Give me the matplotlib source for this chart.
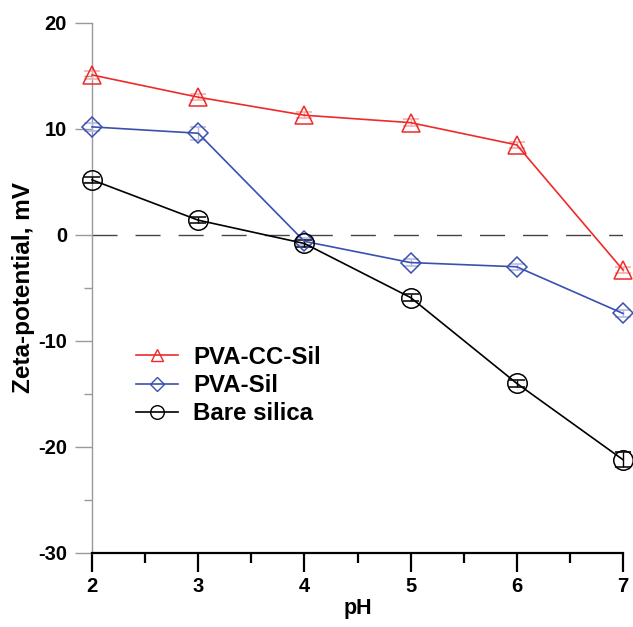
import matplotlib
matplotlib.use("Agg")
import matplotlib.pyplot as plt
from matplotlib.ticker import MultipleLocator
from matplotlib.lines import Line2D

plt.rcParams['font.family'] = ['Liberation Sans', 'DejaVu Sans']
plt.rcParams['axes.unicode_minus'] = False

ph = [2, 3, 4, 5, 6, 7]
pva_cc_sil = [15.1, 13.0, 11.3, 10.6, 8.5, -3.3]
pva_cc_err = [0.4, 0.3, 0.3, 0.3, 0.3, 0.3]
pva_sil = [10.2, 9.6, -0.6, -2.6, -3.0, -7.4]
pva_sil_err = [0.4, 0.6, 0.3, 0.3, 0.3, 0.3]
bare = [5.2, 1.4, -0.8, -5.9, -14.0, -21.2]
bare_err = [0.3, 0.3, 0.3, 0.3, 0.3, 0.7]
labels = ["PVA-CC-Sil", "PVA-Sil", "Bare silica"]

fig = plt.figure(figsize=(6.33, 6.27), dpi=100)
ax = fig.add_axes([92/633, 1-553/627, (623-92)/633, (553-23)/627])

ax.axhline(0, color='#444444', lw=1.0, dashes=(18, 13), zorder=1)

series = [
    (pva_cc_sil, pva_cc_err, '#ee2a2a', '#f4a8a8', '^', 13),
    (pva_sil, pva_sil_err, '#3a50b0', '#b0b4e4', 'D', 9.8),
    (bare, bare_err, '#000000', '#000000', 'o', 14),
]
handles = []
for (vals, err, c, ec, m, ms), lab in zip(series, labels):
    ax.errorbar(ph, vals, yerr=err, color=c, ecolor=ec, elinewidth=1.0,
                capsize=6, capthick=1.2, lw=1.2, marker=m, ms=ms,
                mfc='none', mec=c, mew=1.1, clip_on=False, zorder=3)
    handles.append(Line2D([], [], color=c, lw=1.2, marker=m, ms=ms*0.7,
                          mfc='none', mec=c, mew=1.0, label=lab))

ax.set_xlim(2, 7)
ax.set_ylim(-30, 20)
ax.xaxis.set_major_locator(MultipleLocator(1))
ax.xaxis.set_minor_locator(MultipleLocator(0.5))
ax.yaxis.set_major_locator(MultipleLocator(10))
ax.yaxis.set_minor_locator(MultipleLocator(5))

for s in ['top', 'right']:
    ax.spines[s].set_visible(False)
ax.spines['left'].set_color('#999999')
ax.spines['left'].set_linewidth(1.0)
ax.spines['bottom'].set_color('black')
ax.spines['bottom'].set_linewidth(1.6)

ax.tick_params(axis='y', which='major', direction='out', length=12, width=1.0,
               color='#999999', labelsize=14.5, pad=6)
ax.tick_params(axis='y', which='minor', direction='out', length=6, width=1.0,
               color='#999999')
ax.tick_params(axis='x', which='major', direction='out', length=13.5, width=1.6,
               color='black', labelsize=14.5, pad=4)
ax.tick_params(axis='x', which='minor', direction='out', length=7, width=1.6,
               color='black')
for t in ax.get_xticklabels() + ax.get_yticklabels():
    t.set_fontweight('bold')

ax.set_xlabel('pH', fontsize=15.5, fontweight='bold', labelpad=1)
ax.set_ylabel('Zeta-potential, mV', fontsize=17.5, fontweight='bold', labelpad=2)

leg = ax.legend(handles=handles, loc='upper left', bbox_to_anchor=(0.042, 0.432),
                frameon=False, prop={'size': 17.3, 'weight': 'bold'},
                handlelength=1.75, labelspacing=0.22, handletextpad=0.63)

fig.savefig('out.png', dpi=100)
